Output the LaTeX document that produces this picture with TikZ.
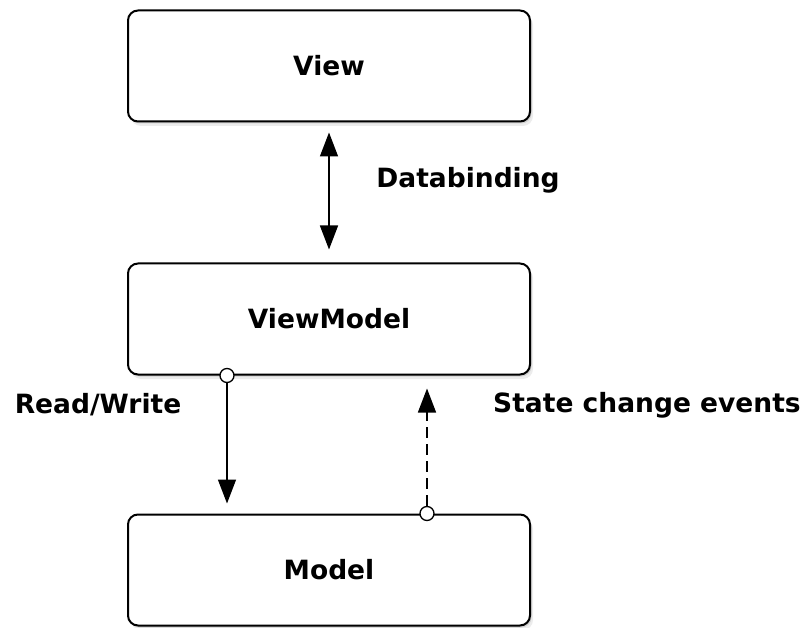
\documentclass[tikz,border=0pt]{standalone}
\usepackage{fontspec}
\setmainfont{DejaVu Sans}
\usetikzlibrary{positioning, arrows.meta, shadows}

\begin{document}
\begin{tikzpicture}[x=1pt, y=-1pt, font=\fontsize{26.5}{31}\selectfont\bfseries,
    >={Triangle[length=24pt, width=18pt]},
    layer/.style={draw, line width=2pt, fill=white, rounded corners=10pt,
        minimum width=402pt, minimum height=111pt,
        drop shadow={shadow xshift=1.5pt, shadow yshift=-2pt, opacity=0.25},
        drop shadow={shadow xshift=3pt, shadow yshift=-4.5pt, opacity=0.15}},
    pin/.style={circle, draw, line width=1.3pt, fill=white, inner sep=0pt, minimum size=14pt},
    flow/.style={line width=1.5pt, ->}]
    \useasboundingbox (0,0) rectangle (803,628);

    \node[layer] (view) at (329,66) {View};
    \node[layer] (viewmodel) at (329,319) {ViewModel};
    \node[layer] (model) at (329,570) {Model};

    \draw[flow, <->, shorten <=10pt, shorten >=13pt] (view) -- (viewmodel);
    \node (databinding) at (468,180) {Databinding};

    \node[pin] (readpin) at ([xshift=100pt]viewmodel.south west) {};
    \draw[flow, shorten >=10pt] (readpin) -- (readpin |- model.north);
    \node (readwrite) at (98,405) {Read/Write};

    \node[pin] (eventpin) at ([xshift=300pt]model.north west) {};
    \draw[flow, dash pattern=on 11pt off 6pt, shorten >=13pt] (eventpin) -- (eventpin |- viewmodel.south);
    \node (events) at (647,405) {State change events};
\end{tikzpicture}
\end{document}
